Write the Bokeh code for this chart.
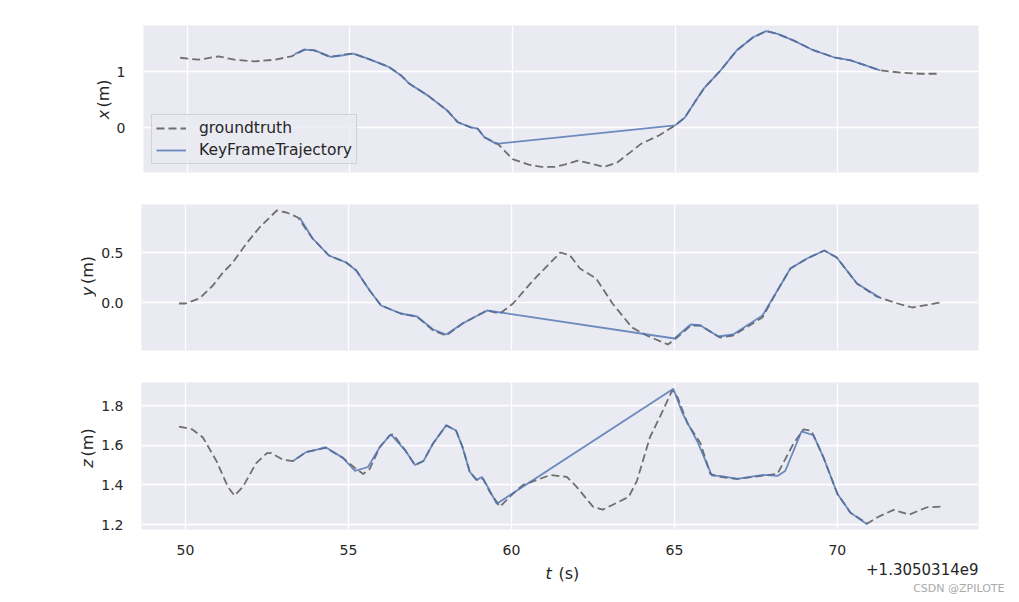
import math
from bokeh.plotting import figure
from bokeh.layouts import column, row
from bokeh.models import FixedTicker, PrintfTickFormatter, Label, Legend, LegendItem, Range1d
from bokeh.embed import file_html
from bokeh.resources import INLINE

# ---------------- data (t relative to offset 1.3050314e9 s) ----------------
t_offset_text = "+1.3050314e9"
x_ticks = [50, 55, 60, 65, 70]

gt_x_t = [49.78, 50.34, 50.95, 51.45, 52.07, 52.68, 53.2, 53.6, 53.9, 54.4, 54.8, 55.1, 55.5, 55.9,
          56.2, 56.57, 56.83, 57.4, 58.0, 58.32, 58.72, 58.93, 59.13, 59.55, 60.0, 60.5, 60.9, 61.3,
          61.6, 62.0, 62.4, 62.8, 63.2, 63.6, 63.95, 64.5, 65.0, 65.3, 65.6, 65.9, 66.4, 66.9, 67.4,
          67.8, 68.15, 68.65, 69.25, 69.9, 70.4, 70.9, 71.3, 71.95, 72.55, 73.16]
gt_x = [1.245, 1.21, 1.27, 1.21, 1.18, 1.21, 1.27, 1.39, 1.375, 1.26, 1.30, 1.32, 1.24, 1.15,
        1.08, 0.93, 0.78, 0.57, 0.30, 0.095, 0.005, -0.02, -0.17, -0.29, -0.56, -0.66, -0.70, -0.70,
        -0.66, -0.59, -0.64, -0.70, -0.63, -0.45, -0.29, -0.14, 0.04, 0.18, 0.45, 0.71, 1.02, 1.38, 1.61,
        1.72, 1.67, 1.55, 1.38, 1.25, 1.20, 1.10, 1.02, 0.98, 0.96, 0.96]

kf_x_t = [53.3, 53.6, 53.9, 54.4, 54.8, 55.1, 55.5, 55.9, 56.2, 56.57, 56.83, 57.4, 58.0, 58.32,
          58.72, 58.93, 59.13, 59.5, 65.0, 65.3, 65.6, 65.9, 66.4, 66.9, 67.4, 67.8, 68.15, 68.65,
          69.25, 69.9, 70.4, 70.9, 71.3]
kf_x = [1.31, 1.39, 1.38, 1.26, 1.29, 1.32, 1.24, 1.15, 1.08, 0.93, 0.78, 0.57, 0.30, 0.095,
        0.005, -0.02, -0.17, -0.29, 0.04, 0.18, 0.45, 0.71, 1.02, 1.38, 1.61, 1.72, 1.67, 1.55,
        1.38, 1.25, 1.20, 1.10, 1.02]

gt_y_t = [49.8, 50.0, 50.43, 50.84, 51.15, 51.45, 51.87, 52.27, 52.8, 53.1, 53.45, 53.9, 54.4, 54.93,
          55.24, 55.65, 56.0, 56.6, 57.1, 57.6, 58.0, 58.5, 59.25, 59.65, 60.05, 60.66, 61.5, 61.8,
          62.1, 62.6, 63.1, 63.7, 64.15, 64.8, 65.08, 65.5, 65.8, 66.4, 66.8, 67.7, 68.16, 68.56,
          69.07, 69.6, 69.98, 70.6, 71.2, 71.85, 72.3, 73.16]
gt_y = [-0.01, -0.01, 0.04, 0.17, 0.30, 0.40, 0.59, 0.75, 0.92, 0.90, 0.85, 0.64, 0.47, 0.40,
        0.32, 0.12, -0.03, -0.11, -0.14, -0.28, -0.33, -0.21, -0.08, -0.11, -0.01, 0.22, 0.50, 0.47,
        0.34, 0.24, -0.01, -0.25, -0.33, -0.42, -0.35, -0.23, -0.23, -0.35, -0.33, -0.15, 0.12, 0.34,
        0.44, 0.52, 0.45, 0.19, 0.06, -0.01, -0.05, 0.00]

kf_y_t = [53.5, 53.9, 54.4, 54.93, 55.24, 55.65, 56.0, 56.6, 57.1, 57.6, 58.0, 58.5, 59.25,
          65.0, 65.5, 65.8, 66.35, 66.8, 67.7, 68.16, 68.56, 69.07, 69.6, 69.98, 70.6, 71.3]
kf_y = [0.85, 0.64, 0.47, 0.40, 0.32, 0.12, -0.03, -0.11, -0.14, -0.27, -0.32, -0.21, -0.08,
        -0.36, -0.22, -0.23, -0.34, -0.32, -0.13, 0.12, 0.34, 0.44, 0.52, 0.45, 0.19, 0.05]

gt_z_t = [49.8, 50.2, 50.53, 50.95, 51.3, 51.5, 51.76, 52.17, 52.5, 52.63, 53.0, 53.3, 53.7, 54.1,
          54.3, 54.83, 55.24, 55.45, 55.65, 55.96, 56.27, 56.37, 56.76, 57.04, 57.3, 57.6, 58.0, 58.3,
          58.5, 58.72, 58.93, 59.13, 59.34, 59.65, 60.05, 60.36, 61.2, 61.7, 62.0, 62.5, 62.8, 63.24,
          63.6, 63.85, 64.25, 64.65, 64.93, 65.1, 65.4, 65.8, 66.1, 66.4, 66.93, 67.73, 68.16, 68.65,
          68.96, 69.2, 69.57, 70.0, 70.4, 70.92, 71.23, 71.73, 72.2, 72.75, 73.16]
gt_z = [1.694, 1.68, 1.64, 1.52, 1.39, 1.346, 1.39, 1.51, 1.56, 1.56, 1.526, 1.52, 1.565, 1.58,
        1.587, 1.536, 1.48, 1.455, 1.48, 1.59, 1.65, 1.655, 1.57, 1.50, 1.52, 1.61, 1.70, 1.674,
        1.59, 1.466, 1.425, 1.43, 1.363, 1.29, 1.356, 1.40, 1.45, 1.44, 1.39, 1.29, 1.275, 1.31,
        1.34, 1.42, 1.64, 1.775, 1.876, 1.84, 1.71, 1.61, 1.455, 1.44, 1.43, 1.447, 1.455, 1.607,
        1.68, 1.673, 1.54, 1.355, 1.26, 1.205, 1.237, 1.274, 1.25, 1.287, 1.29]

kf_z_t = [53.3, 53.7, 54.1, 54.3, 54.83, 55.2, 55.6, 55.96, 56.3, 56.76, 57.04, 57.3, 57.6, 58.0,
          58.3, 58.5, 58.72, 58.93, 59.1, 59.34, 59.55, 64.97, 65.25, 65.7, 66.15, 66.4, 66.93, 67.73,
          68.16, 68.4, 68.9, 69.27, 69.57, 70.0, 70.4, 70.92]
kf_z = [1.52, 1.565, 1.58, 1.59, 1.536, 1.47, 1.49, 1.59, 1.655, 1.57, 1.50, 1.52, 1.61, 1.70,
        1.674, 1.59, 1.466, 1.425, 1.44, 1.37, 1.305, 1.884, 1.76, 1.62, 1.447, 1.445, 1.43, 1.45,
        1.445, 1.47, 1.67, 1.65, 1.54, 1.355, 1.26, 1.20]

panels = [
    dict(gt_t=gt_x_t, gt=gt_x, kf_t=kf_x_t, kf=kf_x, var="x", ticks=[0, 1], fmt="%d",
         yr=(-0.80, 1.82), top=25, frame_h=147, bottom=16, strip=113, lab_x=103, lab_y=68),
    dict(gt_t=gt_y_t, gt=gt_y, kf_t=kf_y_t, kf=kf_y, var="y", ticks=[0.0, 0.5], fmt="%.1f",
         yr=(-0.48, 0.98), top=16, frame_h=146, bottom=16, strip=96, lab_x=87, lab_y=66),
    dict(gt_t=gt_z_t, gt=gt_z, kf_t=kf_z_t, kf=kf_z, var="z", ticks=[1.2, 1.4, 1.6, 1.8], fmt="%.1f",
         yr=(1.175, 1.916), top=16, frame_h=147, bottom=30, strip=96, lab_x=87, lab_y=81),
]

FONT = "DejaVu Sans"
TXT = "#262626"
BG = "#EAEAF2"
GT_COLOR = "#6f6f6f"
KF_COLOR = "#4C72B0"
TOTAL_W, LEFT, RIGHT, FRAME_W = 1019, 141, 41, 837
FOOTER_H = 43


def blank(w, h):
    f = figure(width=w, height=h, output_backend="svg", toolbar_location=None,
               x_range=Range1d(0, w), y_range=Range1d(0, h),
               x_axis_location=None, y_axis_location=None,
               min_border=0, min_border_left=0, min_border_right=0,
               min_border_top=0, min_border_bottom=0)
    f.grid.visible = False
    f.outline_line_color = None
    f.background_fill_color = "white"
    f.border_fill_color = "white"
    return f


rows = []
for i, pn in enumerate(panels):
    h = pn["top"] + pn["frame_h"] + pn["bottom"]
    sw = pn["strip"]
    p = figure(width=TOTAL_W - sw, height=h, output_backend="svg", toolbar_location=None,
               x_range=Range1d(48.65, 74.33), y_range=Range1d(*pn["yr"]),
               min_border_left=LEFT - sw, min_border_right=RIGHT, min_border_top=pn["top"],
               min_border_bottom=pn["bottom"])
    p.background_fill_color = BG
    p.border_fill_color = "white"
    p.outline_line_color = None
    p.xgrid.grid_line_color = "white"
    p.ygrid.grid_line_color = "white"
    p.xgrid.grid_line_width = 1.3
    p.ygrid.grid_line_width = 1.3
    p.xaxis.ticker = FixedTicker(ticks=x_ticks)
    p.yaxis.ticker = FixedTicker(ticks=pn["ticks"])
    p.yaxis.formatter = PrintfTickFormatter(format=pn["fmt"])
    for ax in (p.xaxis[0], p.yaxis[0]):
        ax.axis_line_color = None
        ax.major_tick_line_color = None
        ax.minor_tick_line_color = None
        ax.major_label_text_font = FONT
        ax.major_label_text_font_size = "14px"
        ax.major_label_text_color = TXT
        ax.major_label_standoff = 12
    p.xaxis.major_label_standoff = 9
    if i < 2:
        p.xaxis.visible = False

    r_gt = p.line(pn["gt_t"], pn["gt"], line_color=GT_COLOR, line_width=1.8, line_dash="8 4")
    r_kf = p.line(pn["kf_t"], pn["kf"], line_color=KF_COLOR, line_width=1.8, line_alpha=0.8)

    if i == 0:
        legend = Legend(items=[LegendItem(label="groundtruth", renderers=[r_gt]),
                               LegendItem(label="KeyFrameTrajectory", renderers=[r_kf])],
                        location=(8, 8), label_text_font=FONT, label_text_font_size="15.5px",
                        label_text_color=TXT, glyph_width=30, glyph_height=18, label_height=18,
                        label_standoff=13, spacing=4, padding=4, margin=0,
                        background_fill_color=BG, background_fill_alpha=0.8,
                        border_line_color="#cccccc", border_line_alpha=0.8)
        p.add_layout(legend, "center")

    # left strip holding the y label: italic variable + "(m)"
    s = blank(sw, h)
    s.add_layout(Label(x=pn["lab_x"], y=pn["lab_y"], text=pn["var"], angle=math.pi / 2,
                       text_font=FONT, text_font_style="italic", text_font_size="16px",
                       text_color=TXT, text_align="left", text_baseline="middle"))
    s.add_layout(Label(x=pn["lab_x"], y=pn["lab_y"] + 15, text="(m)", angle=math.pi / 2,
                       text_font=FONT, text_font_size="16px", text_color=TXT,
                       text_align="left", text_baseline="middle"))
    rows.append(row(s, p, spacing=0))

# footer with x label, offset text and watermark
ft = blank(TOTAL_W, FOOTER_H)
ft.add_layout(Label(x=545, y=29, text="t", text_font=FONT, text_font_style="italic",
                    text_font_size="16px", text_color=TXT, text_align="left", text_baseline="middle"))
ft.add_layout(Label(x=558, y=29, text="(s)", text_font=FONT, text_font_size="16px",
                    text_color=TXT, text_align="left", text_baseline="middle"))
ft.add_layout(Label(x=978, y=34, text=t_offset_text, text_font=FONT, text_font_size="15px",
                    text_color=TXT, text_align="right", text_baseline="middle"))
ft.add_layout(Label(x=1004, y=14, text="CSDN @ZPILOTE", text_font=FONT, text_font_size="11px",
                    text_color="#aaaaaa", text_align="right", text_baseline="middle"))

layout = column(*rows, ft, spacing=0)
open("out.html", "w").write(file_html(layout, INLINE))
